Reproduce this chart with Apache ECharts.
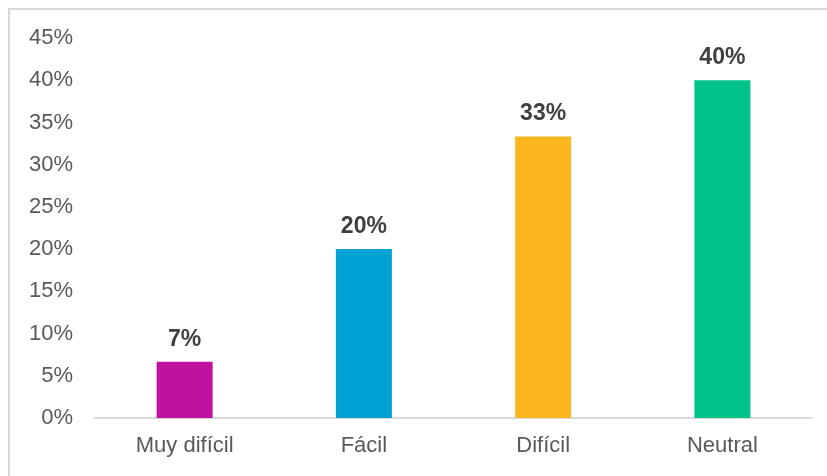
<!DOCTYPE html>
<html><head><meta charset="utf-8">
<script src="https://cdn.jsdelivr.net/npm/echarts@6/dist/echarts.min.js"></script>
<style>html,body{margin:0;padding:0;background:#fff}#c{width:827px;height:476px}</style>
</head><body><div id="c"></div>
<script>
const categories = ["Muy difícil", "Fácil", "Difícil", "Neutral"];
const values = [6.67, 20, 33.33, 40];
const colors = ["#C0119F", "#00A2D3", "#FDB71E", "#00C28A"];
const yTicks = [0, 5, 10, 15, 20, 25, 30, 35, 40, 45];

const chart = echarts.init(document.getElementById('c'), null, {renderer: 'canvas'});
chart.setOption({
  animation: false,
  graphic: [{type: 'rect', shape: {x: 9, y: 9, width: 840, height: 500}, style: {fill: 'none', stroke: '#D9D9D9', lineWidth: 2}}],
  grid: {left: 95, right: 15, top: 38, bottom: 58},
  xAxis: {
    type: 'category', data: categories,
    axisLine: {lineStyle: {color: '#D9D9D9', width: 2}},
    axisTick: {show: false},
    axisLabel: {color: '#595959', fontSize: 22, fontFamily: 'Liberation Sans', margin: 17}
  },
  yAxis: {
    type: 'value', min: yTicks[0], max: yTicks[yTicks.length - 1], interval: 5,
    axisLine: {show: false}, axisTick: {show: false}, splitLine: {show: false},
    axisLabel: {color: '#595959', fontSize: 22, fontFamily: 'Liberation Sans', margin: 22, formatter: v => v + '%'}
  },
  series: [{
    type: 'bar', barWidth: 56,
    data: values.map((v, i) => ({value: v, itemStyle: {color: colors[i]}})),
    label: {show: true, position: 'top', distance: 11, color: '#404040', fontSize: 23, fontWeight: 'bold', fontFamily: 'Liberation Sans', formatter: p => Math.round(p.value) + '%'}
  }]
});
</script></body></html>
